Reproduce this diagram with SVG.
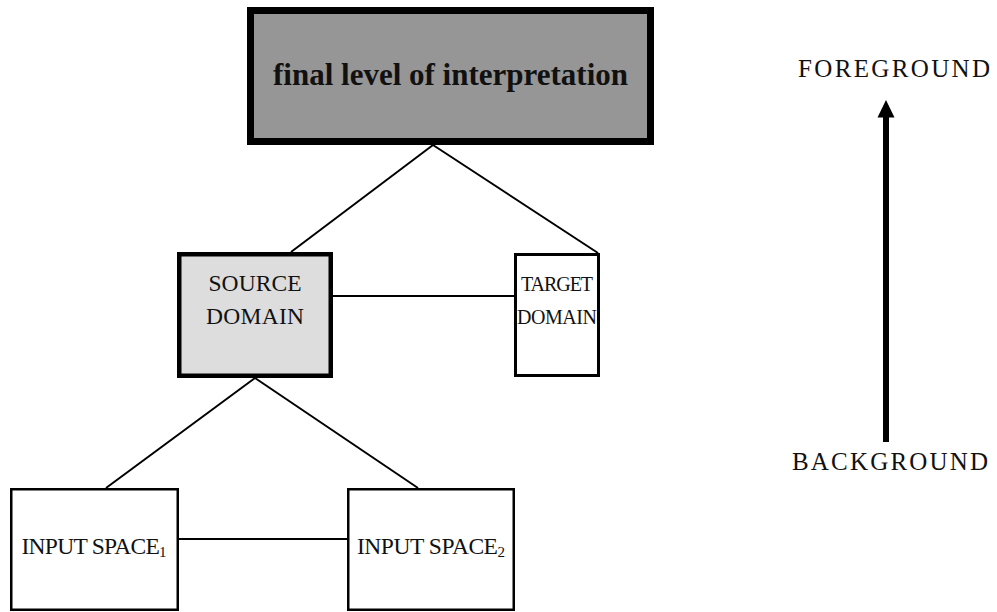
<svg xmlns="http://www.w3.org/2000/svg" width="997" height="612" viewBox="0 0 997 612">
  <defs>
    <style>
      .caps { font-family: "Liberation Serif", "Times New Roman", serif; font-size: 23.5px; fill: #111; text-anchor: middle; }
      .small { font-size: 20px; }
      .axis { font-size: 25px; }
      .title { font-family: "Liberation Serif", "Times New Roman", serif; font-size: 31px; font-weight: bold; fill: #111; text-anchor: middle; }
      .sub { font-size: 15px; }
      .link { stroke: #000; stroke-width: 2; fill: none; }
      .box { stroke: #000; }
    </style>
    <!-- solid triangular head, drawn along +x so it follows the line direction -->
    <marker id="head" markerUnits="userSpaceOnUse" markerWidth="18" markerHeight="18" viewBox="0 0 18 18" refX="0.5" refY="9" orient="auto">
      <path d="M0 0.5 L17.5 9 L0 17.5 Z" fill="#000"/>
    </marker>
  </defs>
  <rect width="997" height="612" fill="#fff"/>

  <!-- connectors -->
  <g id="connectors">
    <line class="link" x1="433" y1="145" x2="291" y2="252"/>
    <line class="link" x1="433" y1="145" x2="598" y2="253"/>
    <line class="link" x1="333" y1="296" x2="514" y2="296"/>
    <line class="link" x1="255" y1="378" x2="106" y2="488"/>
    <line class="link" x1="255" y1="378" x2="418" y2="488"/>
    <line class="link" x1="179" y1="539" x2="347" y2="539"/>
  </g>

  <!-- nodes -->
  <g id="final-level">
    <rect class="box" x="250.5" y="10.5" width="400" height="131" fill="#969696" stroke-width="7"/>
    <text class="title" x="450.5" y="85">final level of interpretation</text>
  </g>

  <g id="source-domain">
    <rect class="box" x="179.25" y="254.25" width="151.5" height="121.5" fill="#dddddd" stroke-width="4.5"/>
    <text class="caps" x="255" y="291" textLength="93" lengthAdjust="spacing">SOURCE</text>
    <text class="caps" x="255" y="324" textLength="98" lengthAdjust="spacing">DOMAIN</text>
  </g>

  <g id="target-domain">
    <rect class="box" x="515.5" y="254.5" width="83" height="121" fill="#fff" stroke-width="3"/>
    <text class="caps small" x="557" y="291" textLength="72" lengthAdjust="spacing">TARGET</text>
    <text class="caps small" x="557" y="324" textLength="80" lengthAdjust="spacing">DOMAIN</text>
  </g>

  <g id="input-space-1">
    <rect class="box" x="11.25" y="489.25" width="166.5" height="120.5" fill="#fff" stroke-width="2.5"/>
    <text class="caps" x="94" y="554" textLength="145" lengthAdjust="spacing">INPUT SPACE<tspan class="sub" dy="3">1</tspan></text>
  </g>

  <g id="input-space-2">
    <rect class="box" x="348.25" y="489.25" width="165.5" height="120.5" fill="#fff" stroke-width="2.5"/>
    <text class="caps" x="431" y="554" textLength="148" lengthAdjust="spacing">INPUT SPACE<tspan class="sub" dy="3">2</tspan></text>
  </g>

  <!-- foreground / background scale -->
  <g id="scale">
    <text class="caps axis" x="894" y="77" textLength="192" lengthAdjust="spacing">FOREGROUND</text>
    <line x1="886" y1="442" x2="886" y2="117" stroke="#000" stroke-width="6" marker-end="url(#head)"/>
    <text class="caps axis" x="890" y="470" textLength="196" lengthAdjust="spacing">BACKGROUND</text>
  </g>
</svg>
